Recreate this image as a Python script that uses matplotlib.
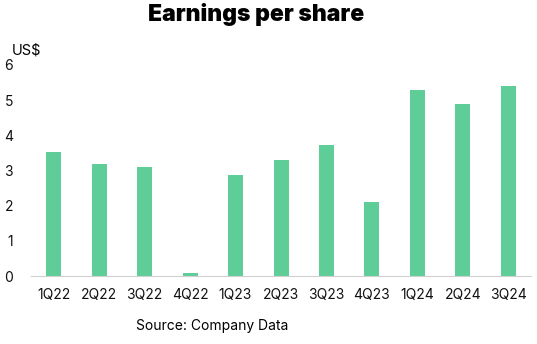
import matplotlib.pyplot as plt

plt.rcParams['font.family'] = ['Inter', 'DejaVu Sans']

quarters = ['1Q22', '2Q22', '3Q22', '4Q22', '1Q23', '2Q23', '3Q23',
            '4Q23', '1Q24', '2Q24', '3Q24']
eps = [3.52, 3.18, 3.10, 0.09, 2.87, 3.30, 3.72, 2.10, 5.28, 4.89, 5.40]

fig = plt.figure(figsize=(5.37, 3.44), dpi=100)
ax = fig.add_axes([31 / 537, 68 / 344, 500 / 537, 211 / 344])

ax.bar(range(len(quarters)), eps, width=0.33, color='#5ecd98')
ax.set_xlim(-0.5, len(quarters) - 0.5)
ax.set_ylim(0, 6)
ax.set_yticks(range(7))
ax.set_xticks(range(len(quarters)))
ax.set_xticklabels(quarters)
ax.tick_params(length=0, labelsize=10, colors='#111111')
ax.tick_params(axis='y', pad=13)
ax.tick_params(axis='x', pad=9)

for side in ['top', 'right', 'left']:
    ax.spines[side].set_visible(False)
ax.spines['bottom'].set_color('#d0d0d0')

fig.text(256 / 537, 1 - 15 / 344, 'Earnings per share', ha='center',
         va='center', fontsize=16.5, fontweight='black')
fig.text(12 / 537, 1 - 51 / 344, 'US$', ha='left', va='center', fontsize=10.5)
fig.text(136 / 537, 1 - 326 / 344, 'Source: Company Data', ha='left',
         va='center', fontsize=10)

fig.savefig('out.png', dpi=100)
